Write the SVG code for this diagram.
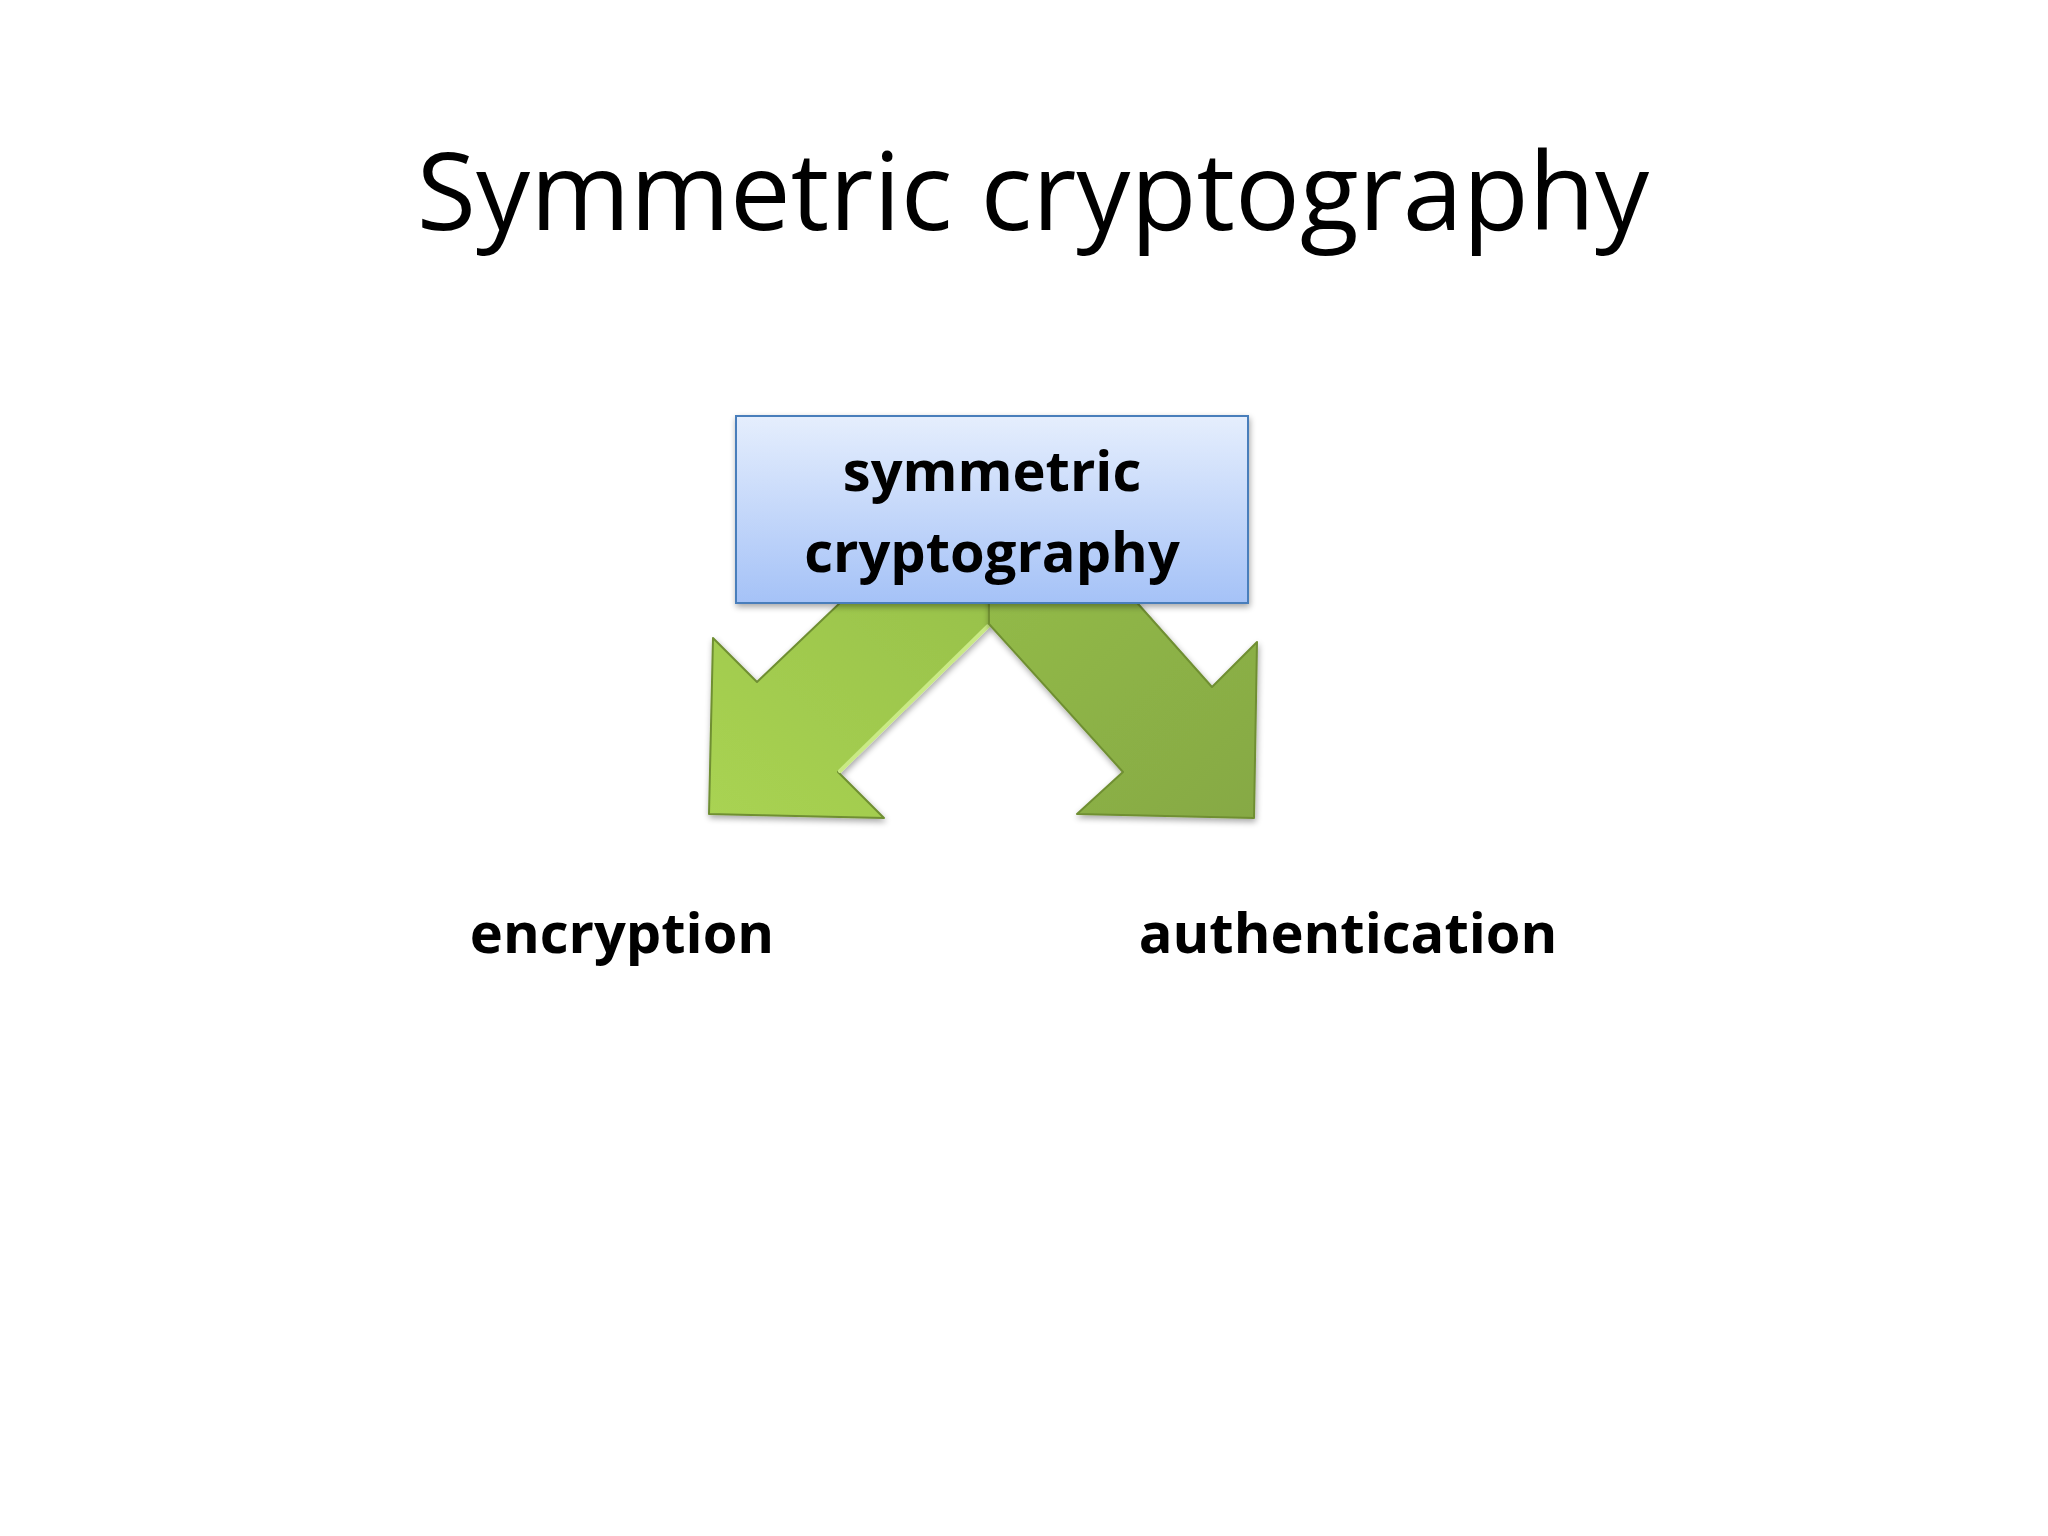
<svg xmlns="http://www.w3.org/2000/svg" width="2048" height="1536" viewBox="0 0 2048 1536">
  <defs>
    <style>
      .title { font-family: "Open Sans", "Liberation Sans", sans-serif; font-size: 108px; fill: #000; }
      .lbl { font-family: "Open Sans", "Liberation Sans", sans-serif; font-weight: bold; font-size: 56px; fill: #000; }
      .arrow { stroke: #6f8f33; stroke-width: 2; stroke-linejoin: round; }
    </style>
    <linearGradient id="boxGrad" x1="0" y1="0" x2="0" y2="1">
      <stop offset="0" stop-color="#e5eefd"/>
      <stop offset="1" stop-color="#a5c2f7"/>
    </linearGradient>
    <linearGradient id="leftGrad" x1="0" y1="1" x2="1" y2="0">
      <stop offset="0" stop-color="#a9d352"/>
      <stop offset="1" stop-color="#97c04a"/>
    </linearGradient>
    <linearGradient id="rightGrad" x1="0" y1="0" x2="1" y2="1">
      <stop offset="0" stop-color="#93bb48"/>
      <stop offset="1" stop-color="#86a944"/>
    </linearGradient>
    <filter id="shadow" x="-10%" y="-10%" width="130%" height="130%">
      <feGaussianBlur in="SourceAlpha" stdDeviation="3"/>
      <feOffset dx="1" dy="3" result="b"/>
      <feComponentTransfer><feFuncA type="linear" slope="0.35"/></feComponentTransfer>
      <feMerge><feMergeNode/><feMergeNode in="SourceGraphic"/></feMerge>
    </filter>
  </defs>
  <rect width="2048" height="1536" fill="#ffffff"/>

  <text class="title" x="1033" y="230" text-anchor="middle">Symmetric cryptography</text>

  <g id="connectors">
    <g id="arrow-encryption" filter="url(#shadow)">
      <polygon class="arrow" fill="url(#leftGrad)" points="989,560 885,560 757,682 713,638 709,814 884,818 838,772 989,624"/>
      <line x1="840" y1="771" x2="988" y2="626" stroke="#c9ea84" stroke-width="4" stroke-linecap="round"/>
    </g>
    <g id="arrow-authentication" filter="url(#shadow)">
      <polygon class="arrow" fill="url(#rightGrad)" points="989,560 1099,560 1212,687 1257,642 1254,818 1077,814 1123,772 989,624"/>
    </g>
  </g>

  <g id="node-symmetric" filter="url(#shadow)">
    <rect x="736" y="416" width="512" height="187" fill="url(#boxGrad)" stroke="#4a7ebb" stroke-width="2"/>
    <text class="lbl" x="992" y="491" text-anchor="middle">symmetric</text>
    <text class="lbl" x="992" y="572" text-anchor="middle">cryptography</text>
  </g>

  <g id="node-encryption">
    <text class="lbl" x="622" y="953" text-anchor="middle">encryption</text>
  </g>
  <g id="node-authentication">
    <text class="lbl" x="1348" y="953" text-anchor="middle">authentication</text>
  </g>
</svg>
